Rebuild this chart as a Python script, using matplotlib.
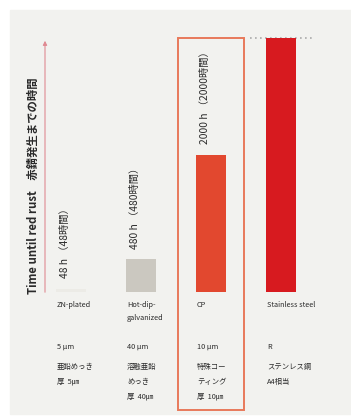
import matplotlib
matplotlib.use("Agg")
import matplotlib.pyplot as plt
from matplotlib.patches import Rectangle, FancyArrowPatch
from matplotlib.transforms import blended_transform_factory

plt.rcParams["font.family"] = ["Noto Sans CJK JP", "DejaVu Sans"]

# data (hours until red rust; stainless runs off the top)
categories = ["ZN-plated", "Hot-dip-\ngalvanized", "CP", "Stainless steel"]
hours = [48, 480, 2000, 3700]
value_labels = ["48 h （48時間）", "480 h （480時間）", "2000 h （2000時間）", ""]
thickness = ["5 µm", "40 µm", "10 µm", "R"]
jp_labels = ["亜鉛めっき\n厚  5㎛", "溶融亜鉛\nめっき\n厚  40㎛",
             "特殊コー\nティング\n厚  10㎛", "ステンレス鋼\nA4相当"]
bar_colors = ["#ecebe6", "#cbc8c0", "#e2482f", "#d71a1f"]

W, H = 351, 417
BG = "#f2f2ef"
TXT = "#2a2a2a"
fig = plt.figure(figsize=(W / 100, H / 100), dpi=100)
fig.patch.set_facecolor("white")
fig.patches.append(Rectangle((10 / W, 3 / H), 1, 1 - 13 / H,
                             transform=fig.transFigure, color=BG, zorder=-5))

def fy(py):
    return 1 - py / H

# bar axes: bottom at y=292 px, top at y=38 px; x 10..340 px
ax = fig.add_axes([10 / W, fy(292), 330 / W, (292 - 38) / H])
ax.set_facecolor("none")
x = list(range(len(categories)))
ax.bar(x, hours, width=0.44, color=bar_colors, zorder=2)
ax.set_xlim((10 - 71) / 70, (340 - 71) / 70)
ax.set_ylim(0, 3700)
ax.axis("off")

for xi, h, lab in zip(x, hours, value_labels):
    if lab:
        ax.text(xi - 0.09, h + 150, lab, rotation=90, ha="center", va="bottom",
                fontsize=7.4, color=TXT)

# dotted line at top of stainless (continues)
ax.plot([2.56, 3.45], [3700, 3700], ls=(0, (1, 2)), color="#aaaaaa",
        lw=1.2, clip_on=False, zorder=1)

# y arrow and title
fig.patches.append(FancyArrowPatch((45 / W, fy(295)), (45 / W, fy(38)),
                                   transform=fig.transFigure, arrowstyle="-|>",
                                   mutation_scale=6, color="#e08a92", lw=0.8))
fig.text(33 / W, fy(294), "Time until red rust    赤錆発生までの時間",
         rotation=90, ha="center", va="bottom", fontsize=8.2,
         color=TXT, fontweight="bold")

# highlight frame around CP column
fig.patches.append(Rectangle((178 / W, fy(410)), 66 / W, (410 - 38) / H,
                             transform=fig.transFigure, fill=False,
                             edgecolor="#e8795a", lw=1.4))

trans = blended_transform_factory(ax.transData, fig.transFigure)
for xi, name, th, jp in zip(x, categories, thickness, jp_labels):
    left = xi - 0.2
    ax.text(left, fy(301), name, transform=trans, ha="left", va="top",
            fontsize=5.3, color=TXT, linespacing=1.8, clip_on=False)
    ax.text(left, fy(343), th, transform=trans, ha="left", va="top",
            fontsize=5.3, color=TXT, clip_on=False)
    ax.text(left, fy(363), jp, transform=trans, ha="left", va="top",
            fontsize=5.3, color=TXT, linespacing=2.1, clip_on=False)

fig.savefig("out.png", dpi=100)
